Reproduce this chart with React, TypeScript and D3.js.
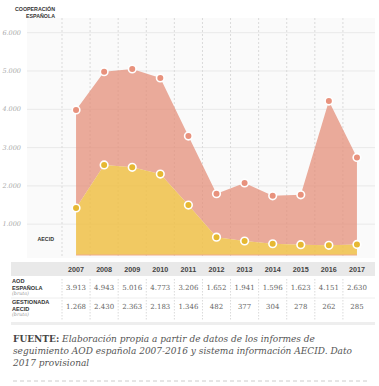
import React from "react";
import * as d3 from "d3";

const years = ["2007","2008","2009","2010","2011","2012","2013","2014","2015","2016","2017"];
const aodEspanola = [3913, 4943, 5016, 4773, 3206, 1652, 1941, 1596, 1623, 4151, 2630];
const gestionadaAecid = [1268, 2430, 2363, 2183, 1346, 482, 377, 304, 278, 262, 285];
const yTicks = [1000, 2000, 3000, 4000, 5000, 6000];

const fmt = (v: number) => d3.format(",")(v).replace(/,/g, ".");

export default function App() {
  const W = 379, H = 386;
  const x = d3.scaleBand<string>().domain(years).range([62, 371]);
  const cx = (y: string) => (x(y) as number) + x.bandwidth() / 2;
  const yData = d3.scaleLinear().domain([0, 6000]).range([255, 32.5]);
  const yGrid = d3.scaleLinear().domain([0, 6000]).range([262.5, 32.7]);

  const idx = years.map((_, i) => i);
  const redArea = d3.area<number>()
    .x(i => cx(years[i]))
    .y0(i => yData(gestionadaAecid[i]))
    .y1(i => yData(aodEspanola[i]));
  const yellowArea = d3.area<number>()
    .x(i => cx(years[i]))
    .y0(yData(0))
    .y1(i => yData(gestionadaAecid[i]));

  const dividers = years.map(y => x(y) as number);
  const sans = "'Liberation Sans', Arial, sans-serif";
  const serif = "'DejaVu Serif', Georgia, serif";

  return (
    <svg width={W} height={H} style={{ position: "absolute", left: 0, top: 0, background: "#fff" }}>
      {/* panel */}
      <rect x={27} y={18} width={348} height={240} fill="#fafafa" />
      {/* horizontal grid */}
      {yTicks.map(t => (
        <g key={t}>
          <line x1={27} x2={375} y1={yGrid(t)} y2={yGrid(t)} stroke="#e9e9e9" strokeWidth={1} />
          <text x={21} y={yGrid(t) + 2} fontSize={6.5} fontStyle="italic" fontFamily={serif} fill="#aaa" textAnchor="end">{fmt(t)}</text>
        </g>
      ))}
      {/* vertical dotted */}
      {dividers.map((d, i) => (
        <line key={i} x1={d} x2={d} y1={18} y2={258} stroke="#dadada" strokeWidth={1} strokeDasharray="2,2" />
      ))}
      {/* areas */}
      <path d={redArea(idx) || ""} fill="#e48f7a" fillOpacity={0.75} />
      <path d={yellowArea(idx) || ""} fill="#efc24c" fillOpacity={0.88} />
      <line x1={cx(years[0])} x2={cx(years[years.length - 1])} y1={yData(0)} y2={yData(0)} stroke="#eeaa88" strokeWidth={1} />
      {/* points */}
      {idx.map(i => (
        <circle key={"r" + i} cx={cx(years[i])} cy={yData(aodEspanola[i])} r={3.8} fill="#e8927d" stroke="#fff" strokeWidth={1.6} />
      ))}
      {idx.map(i => (
        <circle key={"y" + i} cx={cx(years[i])} cy={yData(gestionadaAecid[i])} r={3.8} fill="#e6b832" stroke="#fff" strokeWidth={1.6} />
      ))}
      {/* labels */}
      <text x={55} y={11} fontSize={5.3} fontWeight="bold" fontFamily={sans} fill="#333" textAnchor="end">COOPERACIÓN</text>
      <text x={55} y={18} fontSize={5.3} fontWeight="bold" fontFamily={sans} fill="#333" textAnchor="end">ESPAÑOLA</text>
      <text x={54} y={241} fontSize={5.3} fontWeight="bold" fontFamily={sans} fill="#333" textAnchor="end">AECID</text>

      {/* table */}
      <rect x={11} y={262} width={364} height={14} fill="#e9e9e9" />
      {years.map(y => (
        <text key={y} x={cx(y)} y={272} fontSize={7.2} fontWeight="bold" fontFamily={sans} fill="#444" textAnchor="middle">{y}</text>
      ))}
      {dividers.map((d, i) => (
        <line key={"t" + i} x1={d} x2={d} y1={279} y2={320} stroke="#dadada" strokeWidth={1} strokeDasharray="1.5,1.5" />
      ))}
      <line x1={11} x2={375} y1={298} y2={298} stroke="#eeeeee" strokeWidth={1} />
      <rect x={11} y={322} width={364} height={3} fill="#eeeeee" />

      <text x={12} y={283} fontSize={5.6} fontWeight="bold" fontFamily={sans} fill="#333">AOD</text>
      <text x={12} y={289.5} fontSize={5.6} fontWeight="bold" fontFamily={sans} fill="#333">ESPAÑOLA</text>
      <text x={12} y={295} fontSize={4.8} fontStyle="italic" fontFamily={serif} fill="#999">(bruta)</text>
      <text x={12} y={304} fontSize={5.6} fontWeight="bold" fontFamily={sans} fill="#333">GESTIONADA</text>
      <text x={12} y={310.5} fontSize={5.6} fontWeight="bold" fontFamily={sans} fill="#333">AECID</text>
      <text x={12} y={316} fontSize={4.8} fontStyle="italic" fontFamily={serif} fill="#999">(bruta)</text>

      {aodEspanola.map((v, i) => (
        <text key={"a" + i} x={cx(years[i])} y={290} fontSize={7} fontFamily={serif} fill="#666" textAnchor="middle">{fmt(v)}</text>
      ))}
      {gestionadaAecid.map((v, i) => (
        <text key={"g" + i} x={cx(years[i])} y={309} fontSize={7} fontFamily={serif} fill="#666" textAnchor="middle">{fmt(v)}</text>
      ))}

      {/* footer */}
      <text x={13} y={342} fontSize={9} fontFamily={serif} fill="#444">
        <tspan fontWeight="bold">FUENTE:</tspan>
        <tspan fontStyle="italic" fill="#555"> Elaboración propia a partir de datos de los informes de</tspan>
      </text>
      <text x={13} y={354} fontSize={9} fontStyle="italic" fontFamily={serif} fill="#555">seguimiento AOD española 2007-2016 y sistema información AECID. Dato</text>
      <text x={13} y={366} fontSize={9} fontStyle="italic" fontFamily={serif} fill="#555">2017 provisional</text>
      <line x1={13} x2={370} y1={381} y2={381} stroke="#ccc" strokeWidth={1} strokeDasharray="4,3" />
    </svg>
  );
}
